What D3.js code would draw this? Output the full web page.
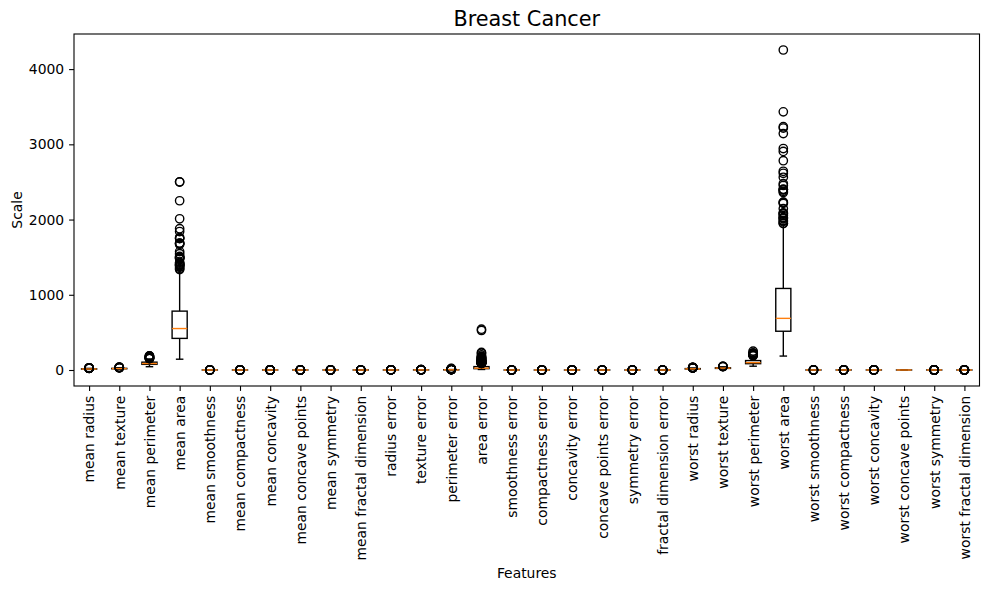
<!DOCTYPE html>
<html lang="en">
<head>
<meta charset="UTF-8" />
<title>Breast Cancer</title>
<script src="https://d3js.org/d3.v7.min.js"></script>
<style>
  html, body { margin: 0; background: #fff; }
  svg { display: block; font-family: "DejaVu Sans", sans-serif; }
  .tick text { font-family: "DejaVu Sans", sans-serif; font-size: 13.9px; fill: #000; }
  .tick line { stroke: #000; stroke-width: 1.1px; }
  .domain { display: none; }
</style>
</head>
<body>
<svg id="chart" width="989" height="590"></svg>
<script>
// ----- data: box summaries (sklearn breast cancer set) -----
const features = [
  'mean radius', 'mean texture', 'mean perimeter', 'mean area', 'mean smoothness',
  'mean compactness', 'mean concavity', 'mean concave points', 'mean symmetry',
  'mean fractal dimension', 'radius error', 'texture error', 'perimeter error',
  'area error', 'smoothness error', 'compactness error', 'concavity error',
  'concave points error', 'symmetry error', 'fractal dimension error', 'worst radius',
  'worst texture', 'worst perimeter', 'worst area', 'worst smoothness',
  'worst compactness', 'worst concavity', 'worst concave points', 'worst symmetry',
  'worst fractal dimension'
];
const whiskerLow = [6.98, 9.71, 43.79, 143.5, 0.0625, 0.0194, 0, 0, 0.106, 0.05,
  0.1115, 0.3602, 0.757, 6.802, 0.0017, 0.0023, 0, 0, 0.0079, 0.0009,
  7.93, 12.02, 50.41, 185.2, 0.0712, 0.0273, 0, 0, 0.1565, 0.055];
const q1 = [11.70, 16.17, 75.17, 420.3, 0.0864, 0.0649, 0.0296, 0.0203, 0.1619, 0.0577,
  0.2324, 0.8339, 1.606, 17.85, 0.0052, 0.0131, 0.0151, 0.0076, 0.0152, 0.0022,
  13.01, 21.08, 84.11, 515.3, 0.1166, 0.1472, 0.1145, 0.0649, 0.2504, 0.0715];
const median = [13.37, 18.84, 86.24, 551.1, 0.0959, 0.0926, 0.0615, 0.0335, 0.1792, 0.0615,
  0.3242, 1.108, 2.287, 24.53, 0.0064, 0.0205, 0.0259, 0.0109, 0.0187, 0.0032,
  14.97, 25.41, 97.66, 686.5, 0.1313, 0.2119, 0.2267, 0.0999, 0.2822, 0.08];
const q3 = [15.78, 21.80, 104.1, 782.7, 0.1053, 0.1304, 0.1307, 0.074, 0.1957, 0.0661,
  0.4789, 1.474, 3.357, 45.19, 0.0081, 0.0325, 0.0421, 0.0147, 0.0235, 0.0046,
  18.79, 29.72, 125.4, 1084, 0.146, 0.3391, 0.3829, 0.1614, 0.3179, 0.0921];
const whiskerHigh = [21.71, 29.97, 147.3, 1326, 0.1326, 0.2283, 0.2804, 0.1595, 0.2459, 0.0787,
  0.8529, 2.426, 6.0, 86.2, 0.0126, 0.0613, 0.082, 0.0252, 0.0359, 0.0079,
  27.32, 42.65, 187.3, 1937, 0.1909, 0.6247, 0.7727, 0.291, 0.4154, 0.1233];
const outliers = [
  [22.01, 22.27, 23.09, 23.21, 23.27, 23.29, 23.51, 24.25, 24.63, 25.22, 25.73, 27.22, 27.42, 28.11],
  [30.62, 30.72, 31.12, 32.47, 33.56, 33.81, 39.28],
  [152.1, 152.8, 153.5, 155.1, 158.9, 165.5, 166.2, 171.5, 174.2, 182.1, 186.9, 188.5],
  [1335, 1347, 1364, 1384, 1386, 1397, 1404, 1407, 1419, 1430, 1479, 1482, 1491, 1497,
   1501, 1509, 1546, 1574, 1670, 1682, 1685, 1686, 1747, 1750, 1761, 1841, 1878, 2010,
   2250, 2499, 2501],
  [0.0526, 0.1371, 0.1398, 0.1425, 0.1447, 0.1634],
  [0.2284, 0.2363, 0.2413, 0.2768, 0.2839, 0.2867, 0.3114, 0.3454],
  [0.281, 0.2871, 0.3001, 0.3130, 0.3189, 0.3201, 0.3368, 0.3523, 0.3635, 0.3754, 0.4108, 0.4264, 0.4268],
  [0.1604, 0.1620, 0.1689, 0.1823, 0.1845, 0.1878, 0.1913, 0.2012],
  [0.1060, 0.2481, 0.2495, 0.2556, 0.2569, 0.2597, 0.2743, 0.2906, 0.304],
  [0.0798, 0.0810, 0.0824, 0.0875, 0.0897, 0.0921, 0.0950, 0.0974],
  [0.8811, 0.9555, 1.009, 1.058, 1.214, 1.292, 1.370, 1.509, 2.547, 2.873],
  [2.454, 2.508, 2.612, 2.635, 2.878, 2.910, 3.120, 3.568, 3.647, 3.896, 4.885],
  [6.051, 6.146, 6.311, 6.372, 6.487, 7.029, 7.276, 7.337, 7.733, 8.077, 8.419, 8.589, 8.830, 9.424, 10.05, 10.12, 11.07, 18.65, 21.98],
  [87.17, 87.78, 88.25, 89.74, 90.47, 93.54, 93.91, 93.99, 94.03, 94.44, 95.77, 96.05,
   97.07, 97.85, 98.81, 99.04, 100.4, 101.9, 102.6, 103.6, 103.9, 104.9, 105.0, 106.0,
   107.4, 109.0, 110.0, 111.4, 111.7, 112.4, 115.2, 116.2, 118.8, 120.0, 122.3, 124.4,
   128.7, 130.8, 133.0, 134.8, 139.9, 153.1, 153.4, 155.8, 156.8, 158.7, 170.0, 176.5,
   180.2, 199.7, 224.1, 233.0, 525.6, 542.2],
  [0.0133, 0.0138, 0.0146, 0.0150, 0.0172, 0.0177, 0.0209, 0.0229, 0.0311],
  [0.0647, 0.0710, 0.0746, 0.0817, 0.0867, 0.0954, 0.1006, 0.1064, 0.1354],
  [0.0860, 0.0914, 0.1040, 0.1091, 0.1190, 0.1278, 0.1438, 0.3038, 0.396],
  [0.0257, 0.0270, 0.0284, 0.0311, 0.0395, 0.0410, 0.0528],
  [0.0367, 0.0392, 0.0430, 0.0459, 0.0514, 0.0558, 0.0596, 0.0612, 0.0790],
  [0.0081, 0.0089, 0.0095, 0.0106, 0.0123, 0.0129, 0.0178, 0.0223, 0.0298],
  [28.01, 28.11, 28.19, 28.40, 29.17, 29.92, 30.00, 30.67, 30.75, 30.79, 31.01, 32.49, 33.12, 33.13, 36.04],
  [44.87, 45.41, 47.16, 49.54],
  [188.0, 195.0, 199.5, 202.4, 205.7, 206.0, 206.8, 211.5, 214.0, 220.8, 229.3, 251.2],
  [1946, 1952, 1972, 1986, 2010, 2022, 2027, 2053, 2073, 2081, 2089, 2145, 2215, 2227,
   2232, 2360, 2375, 2395, 2398, 2403, 2453, 2477, 2562, 2615, 2642, 2782, 2906, 2944,
   3143, 3216, 3234, 3432, 4254],
  [0.0712, 0.1990, 0.2006, 0.2098, 0.2184, 0.2226],
  [0.6577, 0.6643, 0.7444, 0.7584, 0.7725, 0.7917, 0.8663, 0.9379, 0.9327, 1.058],
  [0.7892, 0.8216, 0.8488, 0.8681, 0.9019, 0.9387, 1.105, 1.170, 1.252],
  [],
  [0.4228, 0.4245, 0.4264, 0.4270, 0.4378, 0.4432, 0.4677, 0.4753, 0.4824, 0.5166, 0.5440, 0.5558, 0.5774, 0.5440, 0.6638],
  [0.1240, 0.1243, 0.1252, 0.1284, 0.1297, 0.1364, 0.1402, 0.1403, 0.1431, 0.1446, 0.1486, 0.1730, 0.2075]
];
const yTicks = [0, 1000, 2000, 3000, 4000];

// ----- layout -----
const W = 989, H = 590;
const margin = {left: 74, right: 9.5, top: 34, bottom: 204};
const svg = d3.select('#chart');

const x = d3.scaleLinear()
  .domain([0.5, features.length + 0.5])
  .range([margin.left, W - margin.right]);

const yMax = 4254, yMin = 0, pad = (yMax - yMin) * 0.05;
const y = d3.scaleLinear()
  .domain([yMin - pad, yMax + pad])
  .range([H - margin.bottom, margin.top]);

const boxes = features.map((name, i) => ({
  name, pos: i + 1,
  lo: whiskerLow[i], q1: q1[i], med: median[i], q3: q3[i], hi: whiskerHigh[i],
  fliers: outliers[i]
}));

const halfW = (x(1.25) - x(1));   // box width 0.5
const capW = halfW / 2;
const lw = 1.39;

const g = svg.append('g');

// whiskers + caps
boxes.forEach(b => {
  const cx = x(b.pos);
  [[b.lo, b.q1], [b.q3, b.hi]].forEach(([a, c]) => {
    g.append('line').attr('x1', cx).attr('x2', cx)
      .attr('y1', y(a)).attr('y2', y(c))
      .attr('stroke', '#000').attr('stroke-width', lw);
  });
  [b.lo, b.hi].forEach(v => {
    g.append('line').attr('x1', cx - capW).attr('x2', cx + capW)
      .attr('y1', y(v)).attr('y2', y(v))
      .attr('stroke', '#000').attr('stroke-width', lw);
  });
  g.append('rect')
    .attr('x', cx - halfW).attr('width', halfW * 2)
    .attr('y', y(b.q3)).attr('height', Math.max(0, y(b.q1) - y(b.q3)))
    .attr('fill', 'none').attr('stroke', '#000').attr('stroke-width', lw);
  g.append('line').attr('x1', cx - halfW).attr('x2', cx + halfW)
    .attr('y1', y(b.med)).attr('y2', y(b.med))
    .attr('stroke', '#ff7f0e').attr('stroke-width', lw);
  g.selectAll(null).data(b.fliers).enter().append('circle')
    .attr('cx', cx).attr('cy', d => y(d)).attr('r', 4.17)
    .attr('fill', 'none').attr('stroke', '#000').attr('stroke-width', lw);
});

// axes
const xAxis = svg.append('g')
  .attr('transform', `translate(0,${H - margin.bottom})`)
  .call(d3.axisBottom(x).tickValues(boxes.map(b => b.pos))
    .tickFormat(d => features[d - 1]).tickSize(4.9).tickPadding(4.9));
xAxis.attr('font-family', null).attr('font-size', null);
xAxis.selectAll('.tick text')
  .attr('transform', 'rotate(-90)')
  .attr('text-anchor', 'end')
  .attr('x', -9.8).attr('y', 0).attr('dy', '0.35em');

const yAxis = svg.append('g')
  .attr('transform', `translate(${margin.left},0)`)
  .call(d3.axisLeft(y).tickValues(yTicks).tickFormat(d3.format('d'))
    .tickSize(4.9).tickPadding(4.9));
yAxis.attr('font-family', null).attr('font-size', null);

// frame
svg.append('rect')
  .attr('x', margin.left).attr('y', margin.top)
  .attr('width', W - margin.right - margin.left)
  .attr('height', H - margin.bottom - margin.top)
  .attr('fill', 'none').attr('stroke', '#000').attr('stroke-width', 1.1);

// labels
svg.append('text').attr('x', (margin.left + W - margin.right) / 2).attr('y', 26)
  .attr('text-anchor', 'middle').attr('font-size', '20.8px').text('Breast Cancer');
svg.append('text').attr('x', (margin.left + W - margin.right) / 2).attr('y', 578)
  .attr('text-anchor', 'middle').attr('font-size', '13.9px').text('Features');
svg.append('text')
  .attr('transform', `translate(22,${(margin.top + H - margin.bottom) / 2}) rotate(-90)`)
  .attr('text-anchor', 'middle').attr('font-size', '13.9px').text('Scale');
</script>
</body>
</html>
